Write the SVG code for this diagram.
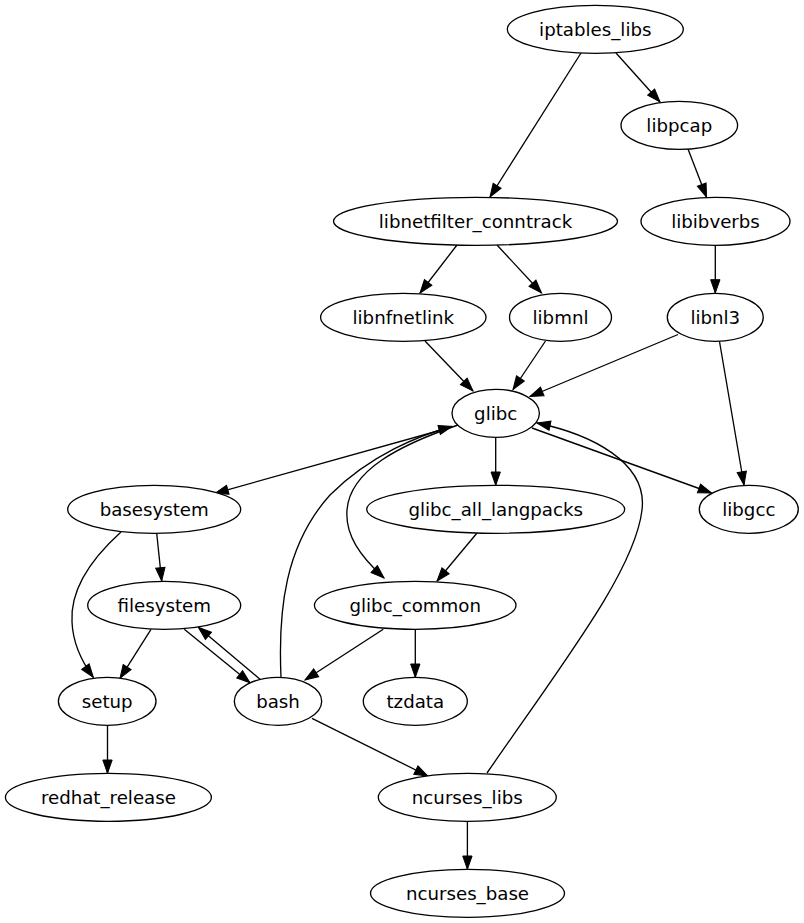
<svg xmlns="http://www.w3.org/2000/svg" width="804" height="923" viewBox="0 0 804 923">
<style>
.n ellipse{fill:#fff;stroke:#000;stroke-width:1.33}
.n text{font-family:"DejaVu Sans",sans-serif;font-size:18.2px;text-anchor:middle;fill:#000}
.e path{fill:none;stroke:#000;stroke-width:1.33;marker-end:url(#a)}
</style>
<defs>
<marker id="a" markerUnits="userSpaceOnUse" markerWidth="14" markerHeight="10" refX="13.3" refY="4.67" orient="auto" overflow="visible">
<path d="M0,0 L13.3,4.67 L0,9.33 z" fill="#000" stroke="#000" stroke-width="1"/>
</marker>
</defs>
<rect width="804" height="923" fill="#fff"/>
<g id="edges" class="e">
<path d="M581,53 L490,197"/>
<path d="M616,53 L660,102"/>
<path d="M688,149 L706.5,197"/>
<path d="M457,245 L420,293"/>
<path d="M497,245 L541.5,293"/>
<path d="M715.3,245 L715.3,293"/>
<path d="M425,341 L473,391"/>
<path d="M545.5,341 L513,389.5"/>
<path d="M678,334.5 L530,396.5"/>
<path d="M719.5,341.5 L744,485"/>
<path d="M532,428 L711.5,493"/>
<path d="M487,773 C565,660 635,570 642,510 C648,462 590,434 537,423"/>
<path d="M281,677 C278,610 285,545 330,495 C370,455 420,435 452,426.5"/>
<path d="M452,427 L215,493.3"/>
<path d="M495.7,437.3 L495.7,485.3"/>
<path d="M458,425 C400,445 350,470 347,510 C345,535 360,556 384,578"/>
<path d="M156.7,533.3 L161.7,581"/>
<path d="M121,532 C90,560 70,590 72,622 C73,645 82,662 93.3,677.3"/>
<path d="M151,629.3 L120,678.3"/>
<path d="M184.3,629.3 L250,682.7"/>
<path d="M260,679.3 L198.3,627.3"/>
<path d="M476.8,533.3 L437,581"/>
<path d="M383.3,629.3 L305,680"/>
<path d="M415.3,629.3 L415.3,677.3"/>
<path d="M312,718.3 L427.8,776"/>
<path d="M107.5,725.3 L107.5,773.3"/>
<path d="M467.4,821.3 L467.4,869.3"/>
</g>
<g id="iptables_libs" class="n"><ellipse cx="595.3" cy="29.3" rx="88" ry="24"/><text x="595.3" y="35.8">iptables_libs</text></g>
<g id="libpcap" class="n"><ellipse cx="679.3" cy="125.3" rx="58.3" ry="24"/><text x="679.3" y="131.8">libpcap</text></g>
<g id="libnetfilter_conntrack" class="n"><ellipse cx="475.5" cy="221.3" rx="142" ry="24"/><text x="475.5" y="227.8">libnetfilter_conntrack</text></g>
<g id="libibverbs" class="n"><ellipse cx="715.5" cy="221.3" rx="74.5" ry="24"/><text x="715.5" y="227.8">libibverbs</text></g>
<g id="libnfnetlink" class="n"><ellipse cx="403.3" cy="317.3" rx="82.7" ry="24"/><text x="403.3" y="323.8">libnfnetlink</text></g>
<g id="libmnl" class="n"><ellipse cx="560.5" cy="317.3" rx="51" ry="24"/><text x="560.5" y="323.8">libmnl</text></g>
<g id="libnl3" class="n"><ellipse cx="715.3" cy="317.3" rx="48" ry="24"/><text x="715.3" y="323.8">libnl3</text></g>
<g id="glibc" class="n"><ellipse cx="495.7" cy="413.3" rx="43.7" ry="24"/><text x="495.7" y="419.8">glibc</text></g>
<g id="basesystem" class="n"><ellipse cx="154.2" cy="509.3" rx="86.5" ry="24"/><text x="154.2" y="515.8">basesystem</text></g>
<g id="glibc_all_langpacks" class="n"><ellipse cx="495.7" cy="509.3" rx="129" ry="24"/><text x="495.7" y="515.8">glibc_all_langpacks</text></g>
<g id="libgcc" class="n"><ellipse cx="748.8" cy="509.3" rx="49.5" ry="24"/><text x="748.8" y="515.8">libgcc</text></g>
<g id="filesystem" class="n"><ellipse cx="164.2" cy="605.3" rx="76.5" ry="24"/><text x="164.2" y="611.8">filesystem</text></g>
<g id="glibc_common" class="n"><ellipse cx="415.2" cy="605.3" rx="100.8" ry="24"/><text x="415.2" y="611.8">glibc_common</text></g>
<g id="setup" class="n"><ellipse cx="107.2" cy="701.3" rx="48.8" ry="24"/><text x="107.2" y="707.8">setup</text></g>
<g id="bash" class="n"><ellipse cx="278" cy="701.3" rx="43.7" ry="24"/><text x="278" y="707.8">bash</text></g>
<g id="tzdata" class="n"><ellipse cx="415.3" cy="701.3" rx="52" ry="24"/><text x="415.3" y="707.8">tzdata</text></g>
<g id="redhat_release" class="n"><ellipse cx="108.4" cy="797.3" rx="103" ry="24"/><text x="108.4" y="803.8">redhat_release</text></g>
<g id="ncurses_libs" class="n"><ellipse cx="467.3" cy="797.3" rx="89" ry="24"/><text x="467.3" y="803.8">ncurses_libs</text></g>
<g id="ncurses_base" class="n"><ellipse cx="467.5" cy="893.3" rx="97" ry="24"/><text x="467.5" y="899.8">ncurses_base</text></g>
</svg>
